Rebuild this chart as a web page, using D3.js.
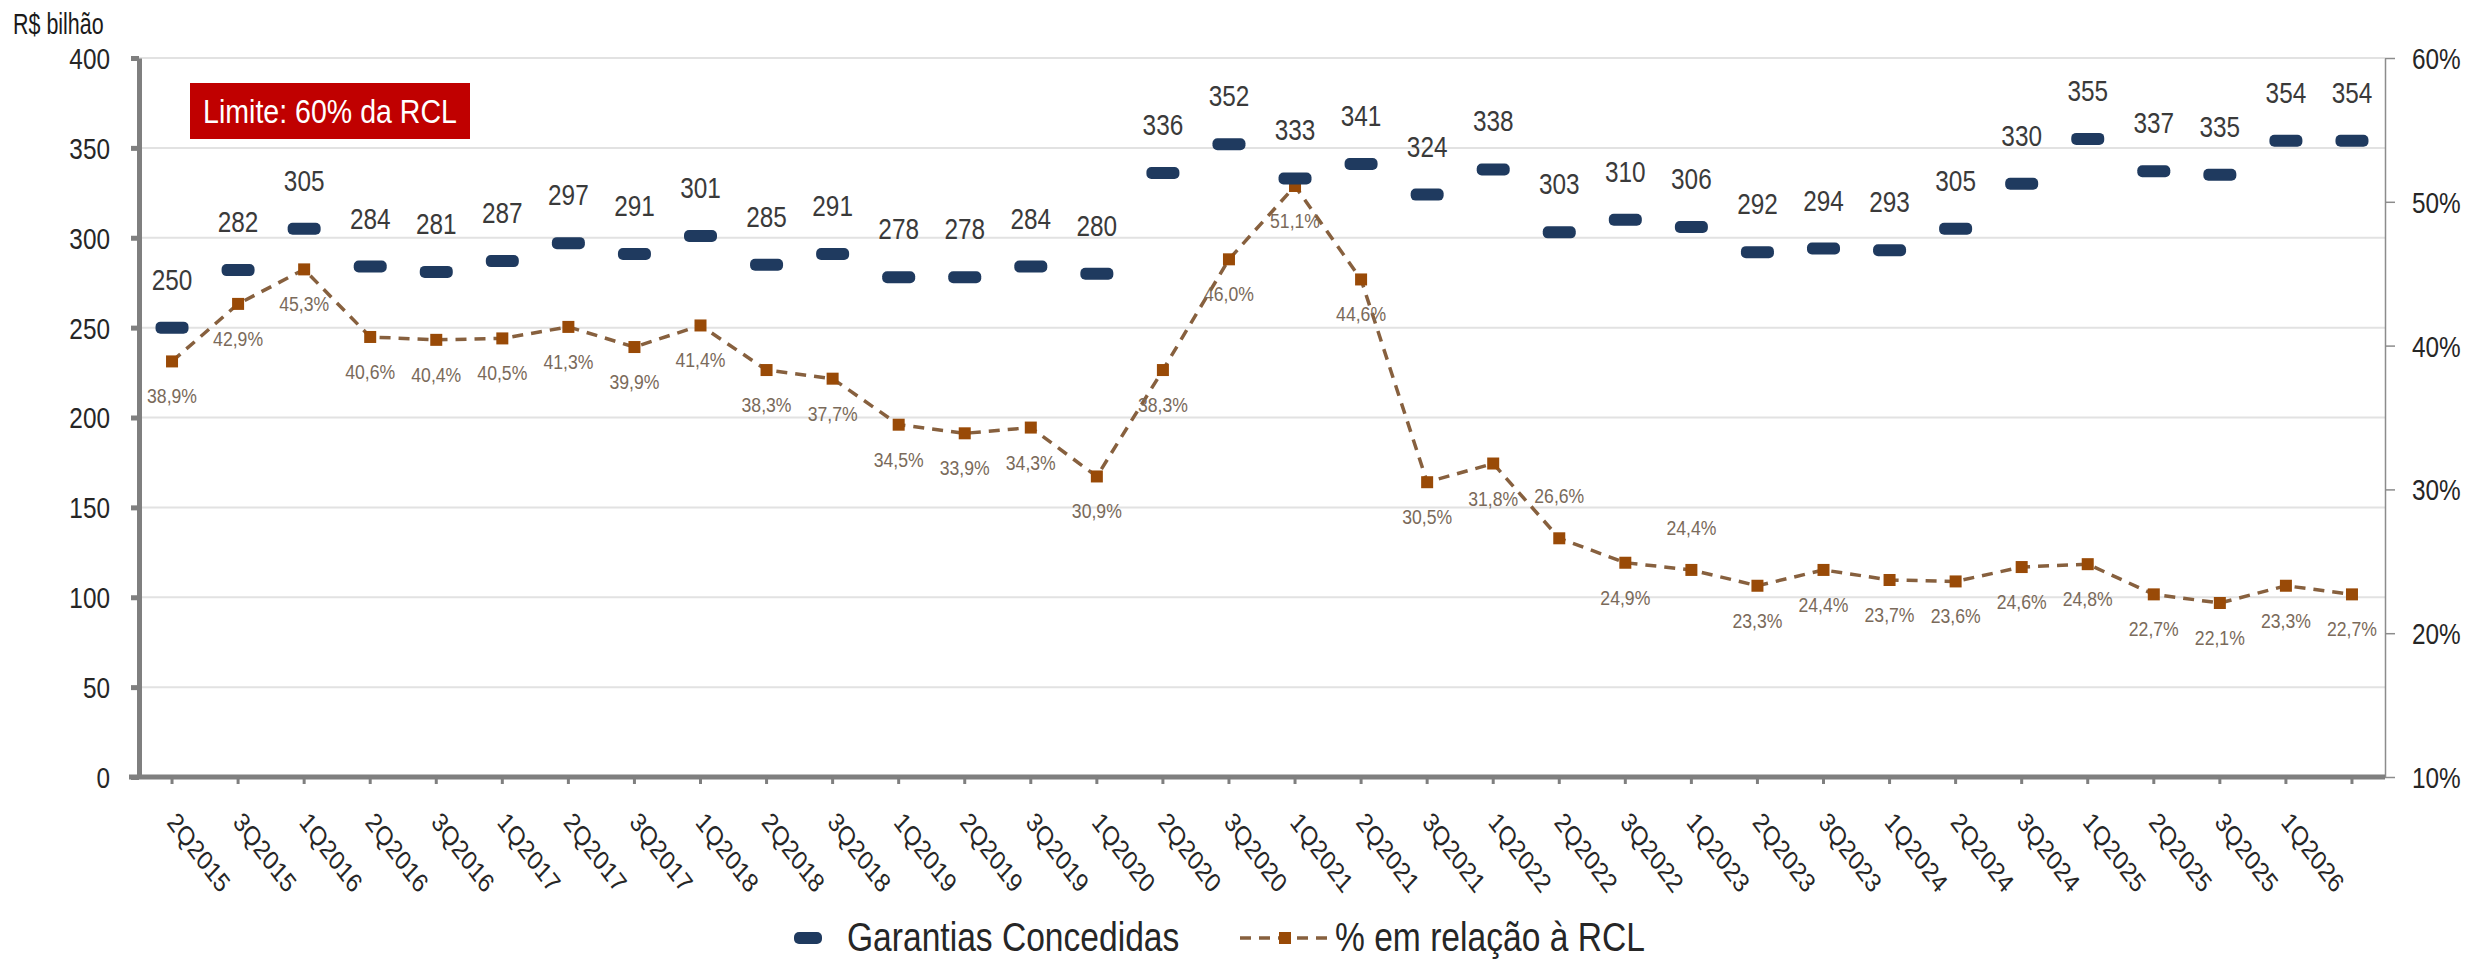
<!DOCTYPE html>
<html>
<head>
<meta charset="utf-8">
<script src="https://cdn.jsdelivr.net/npm/d3@7"></script>
<style>
  body { margin: 0; background: #fff; }
  text { font-family: "Liberation Sans", Arial, sans-serif; }
</style>
</head>
<body>
<div id="chart"></div>
<script>
// quarters (last point has no label in the original)
var categories = ["2Q2015","3Q2015","1Q2016","2Q2016","3Q2016","1Q2017","2Q2017","3Q2017","1Q2018",
  "2Q2018","3Q2018","1Q2019","2Q2019","3Q2019","1Q2020","2Q2020","3Q2020","1Q2021","2Q2021","3Q2021",
  "1Q2022","2Q2022","3Q2022","1Q2023","2Q2023","3Q2023","1Q2024","2Q2024","3Q2024","1Q2025","2Q2025",
  "3Q2025","1Q2026",""];

// R$ bilhão
var garantias = [250,282,305,284,281,287,297,291,301,285,291,278,278,284,280,336,352,333,341,324,
  338,303,310,306,292,294,293,305,330,355,337,335,354,354];

// % em relação à RCL
var pctRCL = [38.9,42.9,45.3,40.6,40.4,40.5,41.3,39.9,41.4,38.3,37.7,34.5,33.9,34.3,30.9,38.3,46.0,
  51.1,44.6,30.5,31.8,26.6,24.9,24.4,23.3,24.4,23.7,23.6,24.6,24.8,22.7,22.1,23.3,22.7];

var leftTicks = [0,50,100,150,200,250,300,350,400];
var rightTicks = [10,20,30,40,50,60];
var pctLabelAbove = ["2Q2022","1Q2023"];

var W = 2479, H = 959;
var SX = 0.84; // text is a bit condensed in the original
var pLeft = 139, pRight = 2385, pTop = 58, pBottom = 777;

var svg = d3.select("#chart").append("svg")
  .attr("width", W)
  .attr("height", H);

var x = d3.scaleBand().domain(categories).range([pLeft, pRight]);
var yL = d3.scaleLinear().domain([0, 400]).range([pBottom, pTop]);
var yR = d3.scaleLinear().domain([10, 60]).range([pBottom, pTop]);
var cx = function (d) { return x(d) + x.bandwidth() / 2; };

function fmtPct(v) { return v.toFixed(1).replace(".", ",") + "%"; }
function sq(tx, ty, s) { return "translate(" + tx + "," + ty + ") scale(" + (s || SX) + ",1)"; }

// gridlines
svg.append("g").selectAll("line")
  .data(leftTicks.slice(1))
  .join("line")
  .attr("x1", pLeft).attr("x2", pRight)
  .attr("y1", function (d) { return yL(d); })
  .attr("y2", function (d) { return yL(d); })
  .attr("stroke", "#e2e2e2")
  .attr("stroke-width", 2);

// right axis
var gR = svg.append("g")
  .attr("transform", "translate(" + pRight + ",0)")
  .call(d3.axisRight(yR).tickValues(rightTicks).tickSize(10).tickSizeOuter(0)
    .tickFormat(function (d) { return d + "%"; }));
gR.select(".domain").attr("stroke", "#8c8c8c").attr("stroke-width", 1.5);
gR.selectAll(".tick line").attr("stroke", "#8c8c8c").attr("stroke-width", 1.5);
gR.selectAll(".tick text")
  .attr("x", 0).attr("dy", "0.36em")
  .attr("transform", sq(27, 0))
  .attr("text-anchor", "start")
  .attr("font-size", 29)
  .attr("fill", "#262626");

// bottom axis
var gB = svg.append("g")
  .attr("transform", "translate(0," + pBottom + ")")
  .call(d3.axisBottom(x).tickSize(7).tickSizeOuter(0));
gB.select(".domain").attr("stroke", "#7f7f7f").attr("stroke-width", 5)
  .attr("d", "M" + (pLeft - 10) + ",0H" + pRight);
gB.selectAll(".tick line").attr("stroke", "#7f7f7f").attr("stroke-width", 3);
gB.selectAll(".tick text")
  .attr("x", 0).attr("y", 0).attr("dy", 0)
  .attr("transform", sq(-6, 46) + " rotate(48)")
  .style("text-anchor", "start")
  .attr("font-size", 27)
  .attr("fill", "#262626");

// left axis
var gL = svg.append("g")
  .attr("transform", "translate(" + pLeft + ",0)")
  .call(d3.axisLeft(yL).tickValues(leftTicks).tickSize(8).tickSizeOuter(0));
gL.select(".domain").attr("stroke", "#7f7f7f").attr("stroke-width", 5);
gL.selectAll(".tick line").attr("stroke", "#7f7f7f").attr("stroke-width", 5);
gL.selectAll(".tick text")
  .attr("x", 0).attr("dy", "0.36em")
  .attr("transform", sq(-29, 0))
  .attr("font-size", 29)
  .attr("fill", "#262626");
[gR, gB, gL].forEach(function (g) { g.attr("font-family", null).attr("font-size", null); });

// unit
svg.append("text")
  .attr("transform", sq(13, 34, 0.74))
  .attr("font-size", 29)
  .attr("fill", "#1a1a1a")
  .text("R$ bilhão");

// limit box
svg.append("rect")
  .attr("x", 190).attr("y", 83)
  .attr("width", 280).attr("height", 56)
  .attr("fill", "#c00000");
svg.append("text")
  .attr("transform", sq(330, 123))
  .attr("text-anchor", "middle")
  .attr("font-size", 34)
  .attr("fill", "#fff")
  .text("Limite: 60% da RCL");

// % RCL line
var pts = categories.map(function (c, i) { return { c: c, v: pctRCL[i] }; });
svg.append("path")
  .datum(pts)
  .attr("fill", "none")
  .attr("stroke", "#87603e")
  .attr("stroke-width", 3.5)
  .attr("stroke-dasharray", "11 8")
  .attr("d", d3.line().x(function (d) { return cx(d.c); }).y(function (d) { return yR(d.v); }));

svg.append("g").selectAll("rect")
  .data(pts)
  .join("rect")
  .attr("x", function (d) { return cx(d.c) - 6; })
  .attr("y", function (d) { return yR(d.v) - 6; })
  .attr("width", 12).attr("height", 12)
  .attr("fill", "#994a07");

svg.append("g").selectAll("text")
  .data(pts)
  .join("text")
  .attr("transform", function (d) {
    var above = pctLabelAbove.indexOf(d.c) >= 0;
    return sq(cx(d.c), yR(d.v) + (above ? -35 : 42));
  })
  .attr("text-anchor", "middle")
  .attr("font-size", 21)
  .attr("fill", "#7a6a5a")
  .text(function (d) { return fmtPct(d.v); });

// garantias dashes
var gar = categories.map(function (c, i) { return { c: c, v: garantias[i] }; });
svg.append("g").selectAll("rect")
  .data(gar)
  .join("rect")
  .attr("x", function (d) { return cx(d.c) - 16.5; })
  .attr("y", function (d) { return yL(d.v) - 6; })
  .attr("width", 33).attr("height", 12)
  .attr("rx", 5)
  .attr("fill", "#1f3a5f");

svg.append("g").selectAll("text")
  .data(gar)
  .join("text")
  .attr("transform", function (d) { return sq(cx(d.c), yL(d.v) - 38); })
  .attr("text-anchor", "middle")
  .attr("font-size", 29)
  .attr("fill", "#3a3a3a")
  .text(function (d) { return d.v; });

// legend
var lg = svg.append("g");
lg.append("rect").attr("x", 794).attr("y", 932).attr("width", 28).attr("height", 12)
  .attr("rx", 5).attr("fill", "#1f3a5f");
lg.append("text").attr("transform", sq(847, 951)).attr("font-size", 40).attr("fill", "#262626")
  .text("Garantias Concedidas");
lg.append("line").attr("x1", 1240).attr("x2", 1331).attr("y1", 938).attr("y2", 938)
  .attr("stroke", "#87603e").attr("stroke-width", 3.5).attr("stroke-dasharray", "11 8");
lg.append("rect").attr("x", 1279).attr("y", 932).attr("width", 12).attr("height", 12)
  .attr("fill", "#994a07");
lg.append("text").attr("transform", sq(1335, 951)).attr("font-size", 40).attr("fill", "#262626")
  .text("% em relação à RCL");
</script>
</body>
</html>
